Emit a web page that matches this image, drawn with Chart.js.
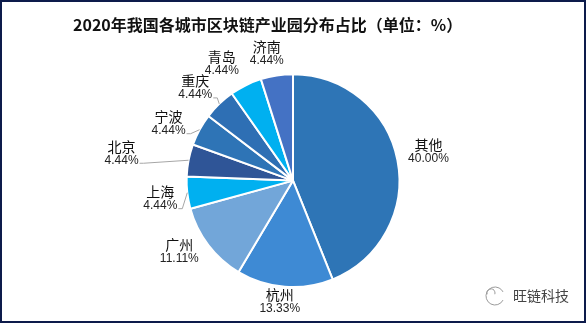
<!DOCTYPE html>
<html lang="zh-CN">
  <head>
    <meta charset="UTF-8" />
    <title>区块链产业园分布占比</title>
    <script src="https://cdn.jsdelivr.net/npm/chart.js"></script>
    <style>
      body { margin: 0; background: #fff; }
      canvas { display: block; }
    </style>
  </head>
  <body>
    <canvas id="myChart" width="587" height="323"></canvas>
    <script>
      // 城市与占比（%）
      const cities = ['其他', '杭州', '广州', '上海', '北京', '宁波', '重庆', '青岛', '济南'];
      const shares = [40.00, 13.33, 11.11, 4.44, 4.44, 4.44, 4.44, 4.44, 4.44];
      const sliceColors = ['#2E75B6', '#3E8AD4', '#72A6D9', '#00B0F0', '#2F5597',
                           '#2E74B6', '#2E6FB4', '#00B0F0', '#4472C4'];

      // label placement, offset from the slice's outer edge point; leader line on/off
      const labelOffset = [[31, -9], [-5, 15], [-29, 7], [-27, 6], [-67, -7],
                           [-31, -6], [-24, -16], [-24, -22], [-10, -22]];
      const labelLeader = [false, false, false, true, true, true, true, false, false];

      const nameFont = '14px "Noto Sans CJK SC", sans-serif';
      const valueFont = '12px "Liberation Sans", Arial, sans-serif';

      const sliceLabels = {
        id: 'sliceLabels',
        afterDatasetsDraw(chart) {
          const ctx = chart.ctx;
          const meta = chart.getDatasetMeta(0);
          ctx.save();
          ctx.textAlign = 'center';
          ctx.textBaseline = 'middle';
          meta.data.forEach((arc, i) => {
            const p = arc.getProps(['x', 'y', 'startAngle', 'endAngle', 'outerRadius'], true);
            const mid = (p.startAngle + p.endAngle) / 2;
            const ex = p.x + Math.cos(mid) * p.outerRadius;
            const ey = p.y + Math.sin(mid) * p.outerRadius;
            const lx = ex + labelOffset[i][0];
            const ly = ey + labelOffset[i][1];
            const valueText = shares[i].toFixed(2) + '%';

            if (labelLeader[i]) {
              ctx.font = valueFont;
              const w = ctx.measureText(valueText).width;
              const sx = lx + w / 2 + 1;
              const sy = ly + 10;
              ctx.strokeStyle = '#a6a6a6';
              ctx.lineWidth = 1;
              ctx.beginPath();
              ctx.moveTo(sx, sy);
              ctx.lineTo(sx + 4, sy);
              ctx.lineTo(ex, ey);
              ctx.stroke();
            }

            ctx.fillStyle = '#111';
            ctx.font = nameFont;
            ctx.fillText(cities[i], lx, ly - 7);
            ctx.fillStyle = '#222';
            ctx.font = valueFont;
            ctx.fillText(valueText, lx, ly + 7);
          });
          ctx.restore();
        }
      };

      // frame and watermark
      const decor = {
        id: 'decor',
        afterDraw(chart) {
          const ctx = chart.ctx;
          ctx.save();
          ctx.strokeStyle = '#0d1b4b';
          ctx.lineWidth = 2;
          ctx.strokeRect(1, 1, 584, 321);

          ctx.strokeStyle = '#9a9a9a';
          ctx.lineWidth = 1;
          ctx.beginPath();
          ctx.arc(495, 296, 9, Math.PI * 0.15, Math.PI * 1.85);
          ctx.stroke();
          ctx.beginPath();
          ctx.arc(491, 293, 4, Math.PI * 0.9, Math.PI * 2.1);
          ctx.stroke();

          ctx.fillStyle = '#444';
          ctx.font = '14px "Noto Sans CJK SC", sans-serif';
          ctx.textAlign = 'left';
          ctx.textBaseline = 'middle';
          ctx.fillText('旺链科技', 513, 296);
          ctx.restore();
        }
      };

      new Chart(document.getElementById('myChart'), {
        type: 'pie',
        data: {
          labels: cities,
          datasets: [{
            data: shares,
            backgroundColor: sliceColors,
            borderColor: '#ffffff',
            borderWidth: 2
          }]
        },
        options: {
          responsive: false,
          animation: false,
          layout: { padding: { left: 73, right: 74, top: 0, bottom: 35 } },
          plugins: {
            legend: { display: false },
            tooltip: { enabled: false },
            title: {
              display: true,
              text: '2020年我国各城市区块链产业园分布占比（单位：%）',
              align: 'start',
              color: '#111',
              font: { family: '"Noto Sans CJK SC", sans-serif', size: 16, weight: 'bold' },
              padding: { top: 15, bottom: 39 }
            }
          }
        },
        plugins: [sliceLabels, decor]
      });
    </script>
  </body>
</html>
